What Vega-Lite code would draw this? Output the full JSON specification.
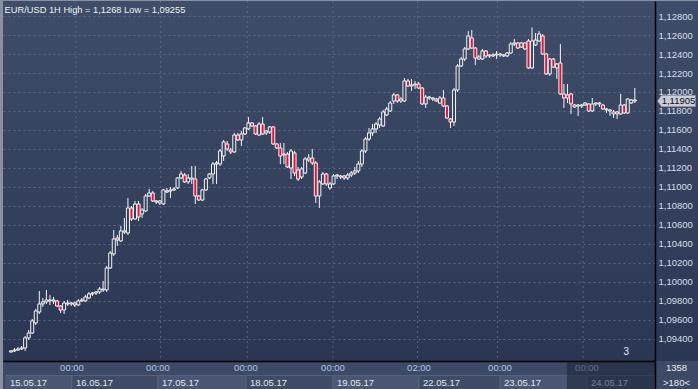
{
"$schema": "https://vega.github.io/schema/vega-lite/v6.json",
"background": "#8890a2",
"padding": {"left": 3, "top": 0, "right": 0, "bottom": 0},
"bounds": "flush",
"spacing": 0,
"columns": 2,
"config": {"font": "Liberation Sans", "view": {"stroke": null}},
"datasets": {
"candles": [
{"i":0,"o":1.09263,"h":1.09284,"l":1.09255,"c":1.09274},
{"i":1,"o":1.09274,"h":1.09305,"l":1.09263,"c":1.09284},
{"i":2,"o":1.09284,"h":1.09316,"l":1.09274,"c":1.09295},
{"i":3,"o":1.09295,"h":1.09326,"l":1.09284,"c":1.09305},
{"i":4,"o":1.09305,"h":1.09432,"l":1.09274,"c":1.09411},
{"i":5,"o":1.09411,"h":1.09495,"l":1.09390,"c":1.09463},
{"i":6,"o":1.09463,"h":1.09611,"l":1.09453,"c":1.09590},
{"i":7,"o":1.09569,"h":1.09716,"l":1.09547,"c":1.09695},
{"i":8,"o":1.09684,"h":1.09905,"l":1.09663,"c":1.09769},
{"i":9,"o":1.09769,"h":1.09832,"l":1.09737,"c":1.09790},
{"i":10,"o":1.09790,"h":1.09916,"l":1.09769,"c":1.09811},
{"i":11,"o":1.09811,"h":1.09863,"l":1.09758,"c":1.09800},
{"i":12,"o":1.09800,"h":1.09842,"l":1.09769,"c":1.09811},
{"i":13,"o":1.09800,"h":1.09811,"l":1.09737,"c":1.09747},
{"i":14,"o":1.09747,"h":1.09758,"l":1.09674,"c":1.09705},
{"i":15,"o":1.09705,"h":1.09800,"l":1.09663,"c":1.09779},
{"i":16,"o":1.09779,"h":1.09811,"l":1.09747,"c":1.09769},
{"i":17,"o":1.09769,"h":1.09790,"l":1.09747,"c":1.09779},
{"i":18,"o":1.09779,"h":1.09790,"l":1.09737,"c":1.09758},
{"i":19,"o":1.09758,"h":1.09821,"l":1.09747,"c":1.09800},
{"i":20,"o":1.09811,"h":1.09832,"l":1.09790,"c":1.09800},
{"i":21,"o":1.09800,"h":1.09863,"l":1.09790,"c":1.09842},
{"i":22,"o":1.09832,"h":1.09895,"l":1.09821,"c":1.09874},
{"i":23,"o":1.09874,"h":1.09895,"l":1.09853,"c":1.09884},
{"i":24,"o":1.09884,"h":1.09905,"l":1.09863,"c":1.09895},
{"i":25,"o":1.09895,"h":1.09947,"l":1.09874,"c":1.09926},
{"i":26,"o":1.09916,"h":1.10011,"l":1.09895,"c":1.09926},
{"i":27,"o":1.09916,"h":1.10169,"l":1.09895,"c":1.10147},
{"i":28,"o":1.10147,"h":1.10326,"l":1.10137,"c":1.10305},
{"i":29,"o":1.10295,"h":1.10547,"l":1.10274,"c":1.10453},
{"i":30,"o":1.10463,"h":1.10495,"l":1.10379,"c":1.10442},
{"i":31,"o":1.10432,"h":1.10590,"l":1.10421,"c":1.10537},
{"i":32,"o":1.10526,"h":1.10674,"l":1.10505,"c":1.10537},
{"i":33,"o":1.10516,"h":1.10884,"l":1.10495,"c":1.10779},
{"i":34,"o":1.10779,"h":1.10800,"l":1.10642,"c":1.10663},
{"i":35,"o":1.10663,"h":1.10853,"l":1.10653,"c":1.10821},
{"i":36,"o":1.10821,"h":1.10853,"l":1.10642,"c":1.10684},
{"i":37,"o":1.10716,"h":1.10779,"l":1.10674,"c":1.10758},
{"i":38,"o":1.10747,"h":1.10926,"l":1.10737,"c":1.10905},
{"i":39,"o":1.10905,"h":1.10979,"l":1.10895,"c":1.10937},
{"i":40,"o":1.10937,"h":1.10958,"l":1.10842,"c":1.10853},
{"i":41,"o":1.10842,"h":1.10863,"l":1.10821,"c":1.10853},
{"i":42,"o":1.10853,"h":1.10863,"l":1.10811,"c":1.10832},
{"i":43,"o":1.10821,"h":1.10979,"l":1.10811,"c":1.10969},
{"i":44,"o":1.10958,"h":1.10990,"l":1.10937,"c":1.10947},
{"i":45,"o":1.10958,"h":1.11000,"l":1.10884,"c":1.10969},
{"i":46,"o":1.10969,"h":1.11000,"l":1.10958,"c":1.10979},
{"i":47,"o":1.10990,"h":1.11105,"l":1.10979,"c":1.11095},
{"i":48,"o":1.11095,"h":1.11169,"l":1.11084,"c":1.11137},
{"i":49,"o":1.11126,"h":1.11147,"l":1.11042,"c":1.11053},
{"i":50,"o":1.11053,"h":1.11137,"l":1.11032,"c":1.11095},
{"i":51,"o":1.11084,"h":1.11221,"l":1.11032,"c":1.11095},
{"i":52,"o":1.11084,"h":1.11221,"l":1.10821,"c":1.10905},
{"i":53,"o":1.10905,"h":1.10916,"l":1.10853,"c":1.10863},
{"i":54,"o":1.10863,"h":1.10979,"l":1.10853,"c":1.10969},
{"i":55,"o":1.10969,"h":1.11095,"l":1.10958,"c":1.11084},
{"i":56,"o":1.11095,"h":1.11147,"l":1.11084,"c":1.11137},
{"i":57,"o":1.11137,"h":1.11263,"l":1.11032,"c":1.11242},
{"i":58,"o":1.11242,"h":1.11274,"l":1.11032,"c":1.11253},
{"i":59,"o":1.11242,"h":1.11400,"l":1.11221,"c":1.11379},
{"i":60,"o":1.11326,"h":1.11495,"l":1.11274,"c":1.11474},
{"i":61,"o":1.11453,"h":1.11484,"l":1.11379,"c":1.11400},
{"i":62,"o":1.11390,"h":1.11411,"l":1.11347,"c":1.11369},
{"i":63,"o":1.11369,"h":1.11569,"l":1.11358,"c":1.11547},
{"i":64,"o":1.11547,"h":1.11569,"l":1.11484,"c":1.11495},
{"i":65,"o":1.11495,"h":1.11590,"l":1.11432,"c":1.11558},
{"i":66,"o":1.11558,"h":1.11632,"l":1.11547,"c":1.11621},
{"i":67,"o":1.11611,"h":1.11737,"l":1.11600,"c":1.11674},
{"i":68,"o":1.11674,"h":1.11684,"l":1.11632,"c":1.11642},
{"i":69,"o":1.11642,"h":1.11653,"l":1.11547,"c":1.11558},
{"i":70,"o":1.11547,"h":1.11684,"l":1.11537,"c":1.11663},
{"i":71,"o":1.11663,"h":1.11737,"l":1.11547,"c":1.11558},
{"i":72,"o":1.11569,"h":1.11600,"l":1.11547,"c":1.11590},
{"i":73,"o":1.11579,"h":1.11642,"l":1.11558,"c":1.11632},
{"i":74,"o":1.11632,"h":1.11642,"l":1.11442,"c":1.11453},
{"i":75,"o":1.11453,"h":1.11463,"l":1.11400,"c":1.11411},
{"i":76,"o":1.11411,"h":1.11463,"l":1.11242,"c":1.11326},
{"i":77,"o":1.11337,"h":1.11463,"l":1.11242,"c":1.11347},
{"i":78,"o":1.11347,"h":1.11369,"l":1.11200,"c":1.11211},
{"i":79,"o":1.11200,"h":1.11400,"l":1.11084,"c":1.11379},
{"i":80,"o":1.11358,"h":1.11379,"l":1.11116,"c":1.11147},
{"i":81,"o":1.11179,"h":1.11211,"l":1.11063,"c":1.11084},
{"i":82,"o":1.11105,"h":1.11211,"l":1.11084,"c":1.11190},
{"i":83,"o":1.11147,"h":1.11316,"l":1.11137,"c":1.11295},
{"i":84,"o":1.11284,"h":1.11347,"l":1.11263,"c":1.11305},
{"i":85,"o":1.11305,"h":1.11400,"l":1.11232,"c":1.11253},
{"i":86,"o":1.11253,"h":1.11274,"l":1.10832,"c":1.10905},
{"i":87,"o":1.10905,"h":1.11074,"l":1.10779,"c":1.11053},
{"i":88,"o":1.11032,"h":1.11158,"l":1.11021,"c":1.11137},
{"i":89,"o":1.11137,"h":1.11147,"l":1.11011,"c":1.11032},
{"i":90,"o":1.10990,"h":1.11053,"l":1.10969,"c":1.11032},
{"i":91,"o":1.11032,"h":1.11137,"l":1.11021,"c":1.11116},
{"i":92,"o":1.11116,"h":1.11137,"l":1.11084,"c":1.11126},
{"i":93,"o":1.11105,"h":1.11126,"l":1.11084,"c":1.11116},
{"i":94,"o":1.11116,"h":1.11126,"l":1.11074,"c":1.11095},
{"i":95,"o":1.11095,"h":1.11147,"l":1.11074,"c":1.11126},
{"i":96,"o":1.11126,"h":1.11169,"l":1.11105,"c":1.11147},
{"i":97,"o":1.11147,"h":1.11211,"l":1.11126,"c":1.11169},
{"i":98,"o":1.11169,"h":1.11274,"l":1.11147,"c":1.11242},
{"i":99,"o":1.11242,"h":1.11400,"l":1.11211,"c":1.11379},
{"i":100,"o":1.11379,"h":1.11526,"l":1.11358,"c":1.11505},
{"i":101,"o":1.11505,"h":1.11621,"l":1.11484,"c":1.11569},
{"i":102,"o":1.11569,"h":1.11663,"l":1.11537,"c":1.11611},
{"i":103,"o":1.11611,"h":1.11684,"l":1.11569,"c":1.11663},
{"i":104,"o":1.11653,"h":1.11737,"l":1.11621,"c":1.11716},
{"i":105,"o":1.11642,"h":1.11811,"l":1.11632,"c":1.11790},
{"i":106,"o":1.11758,"h":1.11842,"l":1.11747,"c":1.11821},
{"i":107,"o":1.11800,"h":1.11905,"l":1.11790,"c":1.11884},
{"i":108,"o":1.11905,"h":1.11990,"l":1.11874,"c":1.11969},
{"i":109,"o":1.11969,"h":1.11979,"l":1.11884,"c":1.11905},
{"i":110,"o":1.11905,"h":1.11947,"l":1.11884,"c":1.11926},
{"i":111,"o":1.11905,"h":1.12147,"l":1.11895,"c":1.12116},
{"i":112,"o":1.12116,"h":1.12137,"l":1.12053,"c":1.12063},
{"i":113,"o":1.12063,"h":1.12137,"l":1.12011,"c":1.12074},
{"i":114,"o":1.12074,"h":1.12116,"l":1.12032,"c":1.12084},
{"i":115,"o":1.12084,"h":1.12105,"l":1.12032,"c":1.12042},
{"i":116,"o":1.12042,"h":1.12053,"l":1.11863,"c":1.11874},
{"i":117,"o":1.11874,"h":1.11969,"l":1.11832,"c":1.11947},
{"i":118,"o":1.11937,"h":1.11958,"l":1.11916,"c":1.11947},
{"i":119,"o":1.11926,"h":1.11947,"l":1.11905,"c":1.11937},
{"i":120,"o":1.11926,"h":1.11937,"l":1.11895,"c":1.11905},
{"i":121,"o":1.11884,"h":1.11958,"l":1.11874,"c":1.11937},
{"i":122,"o":1.11937,"h":1.12021,"l":1.11842,"c":1.11853},
{"i":123,"o":1.11853,"h":1.11863,"l":1.11716,"c":1.11726},
{"i":124,"o":1.11716,"h":1.11726,"l":1.11621,"c":1.11684},
{"i":125,"o":1.11684,"h":1.12042,"l":1.11642,"c":1.12021},
{"i":126,"o":1.12021,"h":1.12295,"l":1.12000,"c":1.12274},
{"i":127,"o":1.12274,"h":1.12369,"l":1.12263,"c":1.12347},
{"i":128,"o":1.12347,"h":1.12474,"l":1.12326,"c":1.12453},
{"i":129,"o":1.12453,"h":1.12642,"l":1.12442,"c":1.12590},
{"i":130,"o":1.12569,"h":1.12653,"l":1.12453,"c":1.12463},
{"i":131,"o":1.12463,"h":1.12474,"l":1.12284,"c":1.12358},
{"i":132,"o":1.12347,"h":1.12390,"l":1.12337,"c":1.12369},
{"i":133,"o":1.12347,"h":1.12453,"l":1.12337,"c":1.12432},
{"i":134,"o":1.12432,"h":1.12442,"l":1.12358,"c":1.12379},
{"i":135,"o":1.12379,"h":1.12400,"l":1.12358,"c":1.12390},
{"i":136,"o":1.12379,"h":1.12411,"l":1.12369,"c":1.12390},
{"i":137,"o":1.12390,"h":1.12432,"l":1.12347,"c":1.12400},
{"i":138,"o":1.12390,"h":1.12411,"l":1.12369,"c":1.12400},
{"i":139,"o":1.12390,"h":1.12400,"l":1.12369,"c":1.12379},
{"i":140,"o":1.12379,"h":1.12421,"l":1.12369,"c":1.12411},
{"i":141,"o":1.12411,"h":1.12526,"l":1.12400,"c":1.12505},
{"i":142,"o":1.12505,"h":1.12558,"l":1.12484,"c":1.12516},
{"i":143,"o":1.12516,"h":1.12526,"l":1.12453,"c":1.12463},
{"i":144,"o":1.12474,"h":1.12526,"l":1.12463,"c":1.12516},
{"i":145,"o":1.12516,"h":1.12526,"l":1.12442,"c":1.12453},
{"i":146,"o":1.12537,"h":1.12558,"l":1.12242,"c":1.12253},
{"i":147,"o":1.12253,"h":1.12680,"l":1.12242,"c":1.12537},
{"i":148,"o":1.12495,"h":1.12621,"l":1.12484,"c":1.12547},
{"i":149,"o":1.12537,"h":1.12642,"l":1.12526,"c":1.12611},
{"i":150,"o":1.12590,"h":1.12611,"l":1.12390,"c":1.12400},
{"i":151,"o":1.12400,"h":1.12411,"l":1.12179,"c":1.12190},
{"i":152,"o":1.12190,"h":1.12358,"l":1.12169,"c":1.12347},
{"i":153,"o":1.12347,"h":1.12358,"l":1.12253,"c":1.12263},
{"i":154,"o":1.12253,"h":1.12305,"l":1.12137,"c":1.12295},
{"i":155,"o":1.12305,"h":1.12505,"l":1.11969,"c":1.11979},
{"i":156,"o":1.11979,"h":1.12084,"l":1.11832,"c":1.11937},
{"i":157,"o":1.11969,"h":1.12084,"l":1.11884,"c":1.11937},
{"i":158,"o":1.11979,"h":1.11990,"l":1.11769,"c":1.11874},
{"i":159,"o":1.11863,"h":1.11874,"l":1.11832,"c":1.11842},
{"i":160,"o":1.11853,"h":1.11874,"l":1.11747,"c":1.11863},
{"i":161,"o":1.11853,"h":1.11874,"l":1.11832,"c":1.11863},
{"i":162,"o":1.11863,"h":1.11895,"l":1.11853,"c":1.11884},
{"i":163,"o":1.11874,"h":1.11884,"l":1.11790,"c":1.11800},
{"i":164,"o":1.11800,"h":1.11937,"l":1.11790,"c":1.11874},
{"i":165,"o":1.11874,"h":1.11895,"l":1.11853,"c":1.11884},
{"i":166,"o":1.11874,"h":1.11895,"l":1.11842,"c":1.11884},
{"i":167,"o":1.11863,"h":1.11874,"l":1.11811,"c":1.11821},
{"i":168,"o":1.11811,"h":1.11832,"l":1.11779,"c":1.11821},
{"i":169,"o":1.11800,"h":1.11821,"l":1.11747,"c":1.11811},
{"i":170,"o":1.11769,"h":1.11811,"l":1.11726,"c":1.11790},
{"i":171,"o":1.11790,"h":1.11800,"l":1.11716,"c":1.11769},
{"i":172,"o":1.11769,"h":1.11979,"l":1.11758,"c":1.11863},
{"i":173,"o":1.11863,"h":1.11874,"l":1.11769,"c":1.11779},
{"i":174,"o":1.11779,"h":1.11937,"l":1.11769,"c":1.11926},
{"i":175,"o":1.11884,"h":1.11926,"l":1.11874,"c":1.11916},
{"i":176,"o":1.11916,"h":1.12042,"l":1.11884,"c":1.11905}
],
"days": [
{"k":0,"start":0,"end":18.33,"date":"15.05.17","time":""},
{"k":1,"start":18.33,"end":42.22,"date":"16.05.17","time":"00:00"},
{"k":2,"start":42.22,"end":66.67,"date":"17.05.17","time":"00:00"},
{"k":3,"start":66.67,"end":90.83,"date":"18.05.17","time":"00:00"},
{"k":4,"start":90.83,"end":114.72,"date":"19.05.17","time":"00:00"},
{"k":5,"start":114.72,"end":137.22,"date":"22.05.17","time":"02:00"},
{"k":6,"start":137.22,"end":161.39,"date":"23.05.17","time":"00:00"},
{"k":7,"start":161.39,"end":180.28,"date":"24.05.17","time":"00:00"}
],
"last": [{"price":1.11905,"label":"1,11905"}],
"marker": [{"i":172.8,"p":1.0921,"label":"3"}],
"footer": [{"row":"time","label":"1358"},{"row":"date","label":">180<"}],
"shade": [{"from":155.8,"to":180.28}]
},
"concat": [
{
"width": 652,
"height": 360,
"view": {"stroke": null, "fill": {"gradient": "linear", "x1": 0, "y1": 0, "x2": 0, "y2": 1, "stops": [{"offset": 0, "color": "#404d69"}, {"offset": 1, "color": "#2a3652"}]}},
"layer": [
{
"data": {"name": "days"},
"transform": [{"filter": "datum.k > 0"}],
"mark": {"type": "rule", "stroke": "#5a6683", "strokeDash": [2, 3], "strokeWidth": 1},
"encoding": {
"x": {"field": "start", "type": "quantitative", "scale": {"domain": [-0.833, 180.28], "nice": false, "zero": false},
"axis": {"orient": "top", "labels": false, "ticks": false, "domain": false, "grid": false, "title": "EUR/USD 1H High = 1,1268 Low = 1,09255", "titleAnchor": "start", "titleAlign": "left", "titleBaseline": "alphabetic", "titleX": 1, "titleY": 11, "titleFontSize": 9.3, "titleFontWeight": "normal", "titleFont": "Liberation Sans", "titleColor": "#eef1f6", "titlePadding": 0, "minExtent": 0, "maxExtent": 0, "zindex": 1}}
}
},
{
"data": {"name": "candles"},
"mark": {"type": "rule", "stroke": "#f4f4f4", "strokeWidth": 1},
"encoding": {
"x": {"field": "i", "type": "quantitative"},
"y": {"field": "l", "type": "quantitative", "scale": {"domain": [1.09168, 1.12958], "nice": false, "zero": false},
"axis": {"orient": "right", "tickCount": 19, "labels": false, "ticks": false, "domain": false, "grid": true, "gridColor": {"condition": {"test": "datum.value < 1.093", "value": "transparent"}, "value": "#5a6683"}, "gridDash": [2, 3], "gridWidth": 1, "title": null, "minExtent": 0, "maxExtent": 0}},
"y2": {"field": "h"}
}
},
{
"data": {"name": "candles"},
"mark": {"type": "bar", "width": 3, "stroke": "#f4f4f4", "strokeWidth": 1},
"encoding": {
"x": {"field": "i", "type": "quantitative"},
"y": {"field": "o", "type": "quantitative"},
"y2": {"field": "c"},
"fill": {"condition": {"test": "datum.c < datum.o", "value": "#e3113c"}, "field": "o", "type": "quantitative", "scale": {"domain": [1.09168, 1.12958], "range": ["#2a3652", "#404d69"]}, "legend": null}
}
},
{
"data": {"name": "marker"},
"mark": {"type": "text", "align": "left", "baseline": "bottom", "fontSize": 10, "color": "#e6eaf2"},
"encoding": {
"x": {"field": "i", "type": "quantitative"},
"y": {"field": "p", "type": "quantitative"},
"text": {"field": "label"}
}
}
]
},
{
"width": 43,
"height": 360,
"view": {"stroke": null, "fill": {"gradient": "linear", "x1": 0, "y1": 0, "x2": 0, "y2": 1, "stops": [{"offset": 0, "color": "#404d69"}, {"offset": 1, "color": "#2a3652"}]}},
"data": {"name": "last"},
"layer": [
{
"mark": {"type": "point", "shape": "M-1,0L-0.79,-0.3L1,-0.3L1,0.3L-0.79,0.3Z", "size": 1444, "filled": true, "fill": "#c9cdd6", "stroke": "#7d8595", "strokeWidth": 0.6, "opacity": 1},
"encoding": {
"y": {"field": "price", "type": "quantitative", "scale": {"domain": [1.09168, 1.12958], "nice": false, "zero": false},
"axis": {"orient": "left", "tickCount": 19, "labelOverlap": false, "labelBound": false, "labelAlign": "left", "labelBaseline": "middle", "labelPadding": -3, "ticks": false, "grid": false, "domain": true, "domainColor": "#000000", "domainWidth": 1.5, "labelColor": "#d8dde8", "labelFontSize": 9.5, "labelFont": "Liberation Sans", "labelExpr": "datum.value < 1.093 ? '' : replace(format(datum.value, '.5f'), '.', ',')", "title": null, "minExtent": 0, "maxExtent": 0}}
}
},
{
"mark": {"type": "text", "fontSize": 9.5, "color": "#111111", "dx": 2},
"encoding": {
"y": {"field": "price", "type": "quantitative"},
"text": {"field": "label"}
}
}
]
},
{
"width": 652,
"height": 29,
"view": {"stroke": null, "fill": "#3d4965"},
"data": {"name": "days"},
"layer": [
{
"mark": {"type": "rect", "stroke": "#56627d", "strokeWidth": 1},
"encoding": {
"x": {"field": "start", "type": "quantitative", "scale": {"domain": [-0.833, 180.28], "nice": false, "zero": false},
"axis": {"orient": "top", "labels": false, "ticks": false, "grid": false, "domain": true, "domainColor": "#000000", "domainWidth": 1.5, "title": null, "zindex": 1, "minExtent": 0, "maxExtent": 0}},
"x2": {"field": "end"},
"y": {"datum": "date", "type": "nominal", "scale": {"domain": ["time", "date"], "paddingInner": 0, "paddingOuter": 0}, "axis": null},
"fill": {"condition": {"test": "datum.k % 2 == 0", "value": "#4a5673"}, "value": "#3f4b67"}
}
},
{
"mark": {"type": "text", "align": "left", "dx": 4, "fontSize": 9.5, "color": "#e3e8f0"},
"encoding": {
"x": {"field": "start", "type": "quantitative"},
"y": {"datum": "date", "type": "nominal"},
"text": {"field": "date"}
}
},
{
"transform": [{"filter": "datum.k > 0"}],
"mark": {"type": "text", "align": "center", "fontSize": 9.5, "color": "#a9c3ea"},
"encoding": {
"x": {"field": "start", "type": "quantitative"},
"y": {"datum": "time", "type": "nominal"},
"text": {"field": "time"}
}
},
{
"data": {"name": "shade"},
"mark": {"type": "rect", "fill": "#1c2438", "opacity": 0.55},
"encoding": {
"x": {"field": "from", "type": "quantitative"},
"x2": {"field": "to"}
}
}
]
},
{
"width": 43,
"height": 29,
"view": {"stroke": null, "fill": "#3d4965"},
"data": {"name": "footer"},
"mark": {"type": "text", "fontSize": 9.5, "color": "#e8ecf2"},
"encoding": {
"y": {"field": "row", "type": "nominal", "scale": {"domain": ["time", "date"], "paddingInner": 0, "paddingOuter": 0},
"axis": {"orient": "left", "labels": false, "ticks": false, "grid": false, "domain": true, "domainColor": "#000000", "domainWidth": 1.5, "title": null, "minExtent": 0, "maxExtent": 0}},
"text": {"field": "label"}
}
}
]
}
